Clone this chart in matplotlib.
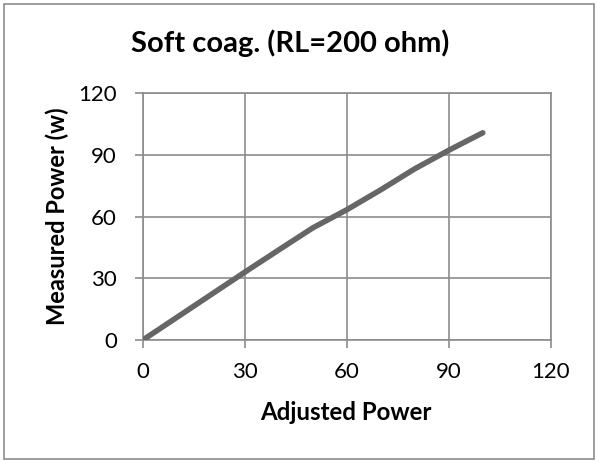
import matplotlib
matplotlib.use("Agg")
import matplotlib.pyplot as plt
from matplotlib.patches import Rectangle

matplotlib.rcParams['font.family'] = ['Lato', 'DejaVu Sans']

# Adjusted vs measured output power, soft coag mode at 200 ohm load
adjusted = [0, 10, 20, 30, 40, 50, 60, 70, 80, 90, 100]
measured = [0, 11, 22, 33, 43.8, 54.5, 63.3, 73, 83.2, 92.2, 100.7]
ticks = [0, 30, 60, 90, 120]

grid_col = "#8c8c8c"
line_col = "#666666"

fig = plt.figure(figsize=(5.98, 4.63), dpi=100)
fig.patches.append(Rectangle((0.007, 0.009), 0.986, 0.982, transform=fig.transFigure,
                             fill=False, edgecolor="#8c8c8c", linewidth=1.2))

ax = fig.add_axes([0.239, 0.2657, 0.682, 0.5333])
ax.plot(adjusted, measured, color=line_col, linewidth=4, solid_capstyle="round", zorder=3)

ax.set_xlim(0, 120)
ax.set_ylim(0, 120)
ax.set_xticks(ticks)
ax.set_yticks(ticks)
ax.grid(True, color=grid_col, linewidth=1.2)
for s in ax.spines.values():
    s.set_color(grid_col)
    s.set_linewidth(1.2)
ax.tick_params(length=5.8, width=1.2, color=grid_col, labelsize=16)
ax.tick_params(axis="y", pad=13)
ax.tick_params(axis="x", pad=10)

fig.text(0.578, 0.110, "Adjusted Power", ha="center", va="center",
         fontsize=17.3, fontweight="bold")
fig.text(0.096, 0.532, "Measured Power (w)", ha="center", va="center",
         rotation=90, fontsize=17, fontweight="bold")
fig.text(0.485, 0.906, "Soft coag. (RL=200 ohm)", ha="center", va="center",
         fontsize=21, fontweight="bold")

fig.savefig("out.png", dpi=100)
plt.close()
